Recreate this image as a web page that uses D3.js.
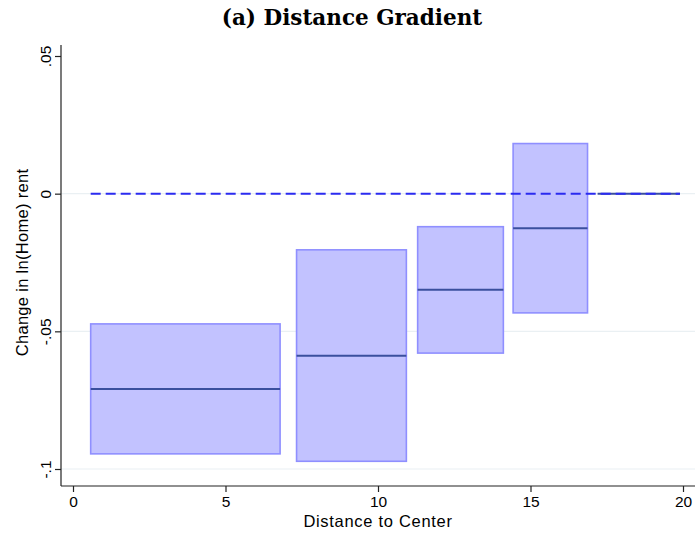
<!DOCTYPE html>
<html>
<head>
<meta charset="utf-8">
<script src="https://cdn.jsdelivr.net/npm/d3@7"></script>
<style>
  body { margin: 0; background: #fff; }
  svg { display: block; }
</style>
</head>
<body>
<svg id="chart" width="695" height="538"></svg>
<script>
// distance bins (km) and estimates
const binStart = [0.58, 7.33, 11.3, 14.43, 17.2];
const binEnd   = [6.79, 10.93, 14.11, 16.87, 19.9];
const estimate = [-0.0709, -0.0589, -0.0349, -0.0126, 0];
const ciLow    = [-0.0945, -0.0972, -0.0579, -0.0433, 0];
const ciHigh   = [-0.0473, -0.0204, -0.012, 0.0182, 0];

const xTicks = [0, 5, 10, 15, 20];
const yTicks = [0.05, 0, -0.05, -0.1];
const yTickLabels = [".05", "0", "-.05", "-.1"];

const bins = binStart.map((s, i) => ({
    start: s, end: binEnd[i], est: estimate[i], lo: ciLow[i], hi: ciHigh[i]
}));

const svg = d3.select('#chart');
const width = 695, height = 538;

// plot region
const axisLeft = 61, axisBottom = 486, axisTop = 45;

const x = d3.scaleLinear().domain([0, 20]).range([73, 683]);
const y = d3.scaleLinear().domain([-0.1, 0.05]).range([469, 56]);

const sans = '"Liberation Sans", Arial, sans-serif';

// title
svg.append('text')
    .attr('x', 352)
    .attr('y', 25)
    .attr('text-anchor', 'middle')
    .attr('font-family', '"DejaVu Serif", "Liberation Serif", serif')
    .attr('font-weight', 'bold')
    .attr('font-size', '21.5px')
    .text('(a) Distance Gradient');

// gridlines
svg.append('g')
    .selectAll('line')
    .data(yTicks.filter(d => d < 0.05))
    .enter()
    .append('line')
    .attr('x1', axisLeft)
    .attr('x2', width)
    .attr('y1', d => y(d))
    .attr('y2', d => y(d))
    .attr('stroke', '#eaf0f3')
    .attr('stroke-width', 1.2);

// CI boxes
svg.append('g')
    .selectAll('rect')
    .data(bins.filter(d => d.hi > d.lo))
    .enter()
    .append('rect')
    .attr('x', d => x(d.start))
    .attr('y', d => y(d.hi))
    .attr('width', d => x(d.end) - x(d.start))
    .attr('height', d => y(d.lo) - y(d.hi))
    .attr('fill', '#c2c2ff')
    .attr('stroke', '#8f8fff')
    .attr('stroke-width', 1.6);

// point estimates
svg.append('g')
    .selectAll('line')
    .data(bins)
    .enter()
    .append('line')
    .attr('x1', d => x(d.start))
    .attr('x2', d => x(d.end))
    .attr('y1', d => y(d.est))
    .attr('y2', d => y(d.est))
    .attr('stroke', '#3a4f9e')
    .attr('stroke-width', 2);

// zero reference line (dashed)
svg.append('line')
    .attr('x1', x(binStart[0]))
    .attr('x2', x(binEnd[binEnd.length - 1]))
    .attr('y1', y(0))
    .attr('y2', y(0))
    .attr('stroke', '#2b2bf0')
    .attr('stroke-width', 2)
    .attr('stroke-dasharray', '10,5');

// axes
const yAxis = d3.axisLeft(y)
    .tickValues(yTicks)
    .tickSize(6)
    .tickFormat((d, i) => yTickLabels[i]);

const yG = svg.append('g')
    .attr('transform', `translate(${axisLeft},0)`)
    .call(yAxis);
yG.select('.domain').attr('d', `M0,${axisTop}V${axisBottom}`);
yG.selectAll('text')
    .attr('font-family', sans)
    .attr('font-size', '15.5px')
    .attr('fill', '#000')
    .attr('text-anchor', 'middle')
    .attr('dy', null)
    .attr('x', null)
    .attr('transform', `translate(-10,0) rotate(-90)`);

const xAxis = d3.axisBottom(x)
    .tickValues(xTicks)
    .tickSize(6)
    .tickFormat(d3.format('d'));

const xG = svg.append('g')
    .attr('transform', `translate(0,${axisBottom})`)
    .call(xAxis);
xG.select('.domain').attr('d', `M${axisLeft},0H${width}`);
xG.selectAll('text')
    .attr('font-family', sans)
    .attr('font-size', '15.5px')
    .attr('fill', '#000')
    .attr('y', 10);

svg.selectAll('.domain, .tick line')
    .attr('stroke', '#222')
    .attr('stroke-width', 1.2);

// axis titles
svg.append('text')
    .attr('x', 378)
    .attr('y', 527)
    .attr('text-anchor', 'middle')
    .attr('font-family', sans)
    .attr('font-size', '16.5px')
    .attr('letter-spacing', '0.7px')
    .text('Distance to Center');

svg.append('text')
    .attr('transform', `translate(28,${(y(0.05) + y(-0.1)) / 2}) rotate(-90)`)
    .attr('text-anchor', 'middle')
    .attr('font-family', sans)
    .attr('font-size', '16.5px')
    .attr('letter-spacing', '0.3px')
    .text('Change in ln(Home) rent');
</script>
</body>
</html>
